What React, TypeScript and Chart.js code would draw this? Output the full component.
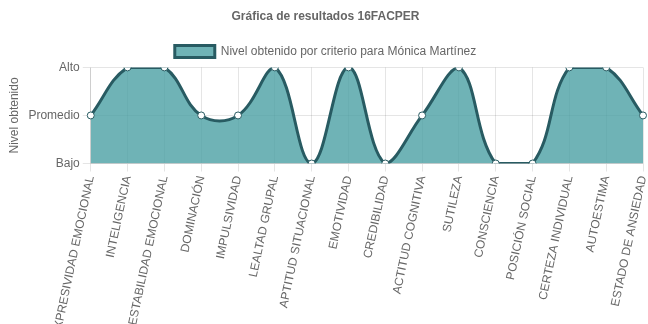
import React, { useEffect, useRef } from "react";
import { Chart, registerables } from "chart.js";

Chart.register(...registerables);

const categories = [
  "EXPRESIVIDAD EMOCIONAL",
  "INTELIGENCIA",
  "ESTABILIDAD EMOCIONAL",
  "DOMINACIÓN",
  "IMPULSIVIDAD",
  "LEALTAD GRUPAL",
  "APTITUD SITUACIONAL",
  "EMOTIVIDAD",
  "CREDIBILIDAD",
  "ACTITUD COGNITIVA",
  "SUTILEZA",
  "CONSCIENCIA",
  "POSICIÓN SOCIAL",
  "CERTEZA INDIVIDUAL",
  "AUTOESTIMA",
  "ESTADO DE ANSIEDAD",
];

const levels = [1, 2, 2, 1, 1, 2, 0, 2, 0, 1, 2, 0, 0, 2, 2, 1];

const levelLabels = ["Bajo", "Promedio", "Alto"];

const title = "Gráfica de resultados 16FACPER";
const seriesName = "Nivel obtenido por criterio para Mónica Martínez";
const yTitle = "Nivel obtenido";

const FONT = "'Liberation Sans', Arial, Helvetica, sans-serif";

export default function App() {
  const ref = useRef<HTMLCanvasElement | null>(null);

  useEffect(() => {
    if (!ref.current) return;
    Chart.defaults.font.family = FONT;
    Chart.defaults.color = "#666";
    const chart = new Chart(ref.current, {
      type: "line",
      data: {
        labels: categories,
        datasets: [
          {
            label: seriesName,
            data: levels,
            fill: "start",
            backgroundColor: "rgba(70,158,162,0.78)",
            borderColor: "#285b62",
            borderWidth: 3,
            tension: 0.4,
            pointRadius: 3.5,
            pointBackgroundColor: "#ffffff",
            pointBorderColor: "#285b62",
            pointBorderWidth: 1,
          },
        ],
      },
      options: {
        animation: false,
        responsive: false,
        layout: { padding: { right: 0, left: 3, top: 0, bottom: 0 } },
        plugins: {
          title: {
            display: true,
            text: title,
            font: { size: 12, weight: "bold", family: FONT },
            color: "#666",
            padding: { top: 9, bottom: 12 },
          },
          legend: {
            display: true,
            labels: {
              font: { size: 12, family: FONT },
              color: "#666",
              boxWidth: 40,
              boxHeight: 12,
            },
          },
          tooltip: { enabled: false },
        },
        scales: {
          x: {
            grid: { color: "rgba(0,0,0,0.1)", tickLength: 8 },
            afterFit: (scale: any) => {
              scale.paddingRight = 5;
            },
            ticks: {
              font: { size: 12, family: FONT },
              color: "#666",
              minRotation: 78,
              maxRotation: 78,
              autoSkip: false,
            },
          },
          y: {
            min: 0,
            max: 2,
            grid: { color: "rgba(0,0,0,0.1)", tickLength: 8 },
            ticks: {
              stepSize: 1,
              font: { size: 12, family: FONT },
              color: "#666",
              callback: (v: any) => levelLabels[v as number] ?? "",
            },
            title: {
              display: true,
              text: yTitle,
              font: { size: 12, family: FONT },
              color: "#666",
            },
          },
        },
      },
    });
    return () => chart.destroy();
  }, []);

  return (
    <div style={{ position: "absolute", left: 0, top: 0 }}>
      <canvas ref={ref} width={648} height={327} />
    </div>
  );
}
